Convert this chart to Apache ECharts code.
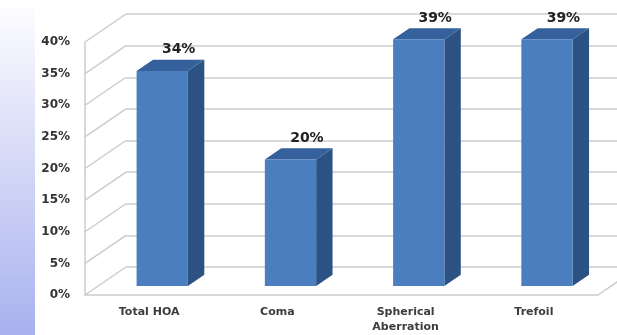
<!DOCTYPE html>
<html>
<head>
<meta charset="utf-8">
<script src="https://cdn.jsdelivr.net/npm/echarts@6/dist/echarts.min.js"></script>
<style>
  html, body { margin: 0; padding: 0; background: #ffffff; }
  #chart { width: 617px; height: 335px; }
</style>
</head>
<body>
<div id="chart"></div>
<script>
// Aberration shares (percent) per category
const categories = ['Total HOA', 'Coma', 'Spherical\nAberration', 'Trefoil'];
const values = [34, 20, 39, 39];
// Value-axis ticks (percent)
const yTicks = [0, 5, 10, 15, 20, 25, 30, 35, 40];

// Pseudo-3D depth: full wall depth vector, bar front offset and bar thickness (fractions of depth)
const DEPTH = [41, -28];
const BAR_FRONT = 0.32;
const BAR_DEPTH = 0.4;
const GRID_COLOR = '#cccccc';

const chart = echarts.init(document.getElementById('chart'), null, { renderer: 'canvas' });

const option = {
  animation: false,
  backgroundColor: '#ffffff',
  graphic: [{
    type: 'rect',
    left: 0, top: 0, z: -10,
    shape: { width: 35, height: 335 },
    style: {
      fill: new echarts.graphic.LinearGradient(0, 0, 0, 1, [
        { offset: 0, color: '#ffffff' },
        { offset: 0.12, color: '#f4f5fd' },
        { offset: 1, color: '#a8b1ee' }
      ])
    }
  }],
  grid: [
    { left: 85, top: 42, width: 513, height: 253 },   // front plane
    { left: 126, top: 14, width: 513, height: 253 }   // back wall
  ],
  xAxis: [
    {
      type: 'category', gridIndex: 0, data: categories,
      axisLine: { show: true, lineStyle: { color: GRID_COLOR, width: 1.5 } },
      axisTick: { show: false },
      axisLabel: {
        interval: 0, margin: 10, color: '#3c3c3c',
        fontFamily: 'DejaVu Sans', fontWeight: 'bold', fontSize: 11, lineHeight: 15
      }
    },
    { type: 'value', gridIndex: 1, min: 0, max: 1, show: false }
  ],
  yAxis: [
    {
      type: 'value', gridIndex: 0, min: 0, max: 40, interval: 5,
      axisLine: { show: true, lineStyle: { color: GRID_COLOR, width: 1.5 } },
      axisTick: { show: false },
      splitLine: { show: false },
      axisLabel: {
        formatter: '{value}%', margin: 15, color: '#333333',
        fontFamily: 'DejaVu Sans', fontWeight: 'bold', fontSize: 12
      }
    },
    {
      type: 'value', gridIndex: 1, min: 0, max: 40, interval: 5,
      axisLine: { show: false }, axisTick: { show: false }, axisLabel: { show: false },
      splitLine: { show: true, lineStyle: { color: GRID_COLOR, width: 1.5 } }
    }
  ],
  series: [
    {
      // receding lines of the left side wall and the floor's right edge
      type: 'custom', xAxisIndex: 0, yAxisIndex: 0, z: 1, silent: true,
      data: yTicks.map(v => [0, v]),
      renderItem: function (params, api) {
        const v = api.value(1);
        const cs = params.coordSys;
        const y = api.coord([0, v])[1];
        const children = [{
          type: 'line',
          shape: { x1: cs.x, y1: y, x2: cs.x + DEPTH[0], y2: y + DEPTH[1] },
          style: { stroke: GRID_COLOR, lineWidth: 1.5 }
        }];
        if (v === 0) {
          const xr = cs.x + cs.width;
          children.push({
            type: 'line',
            shape: { x1: xr, y1: y, x2: xr + DEPTH[0], y2: y + DEPTH[1] },
            style: { stroke: GRID_COLOR, lineWidth: 1.5 }
          });
        }
        return { type: 'group', children: children };
      }
    },
    {
      // 3D columns with value labels
      type: 'custom', xAxisIndex: 0, yAxisIndex: 0, z: 5, silent: true,
      data: values.map((v, i) => [i, v]),
      renderItem: function (params, api) {
        const i = api.value(0), v = api.value(1);
        const base = api.coord([i, 0]);
        const top = api.coord([i, v]);
        const band = api.size([1, 0])[0];
        const w = band * 0.4;
        const fx = DEPTH[0] * BAR_FRONT, fy = DEPTH[1] * BAR_FRONT;
        const bx = DEPTH[0] * BAR_DEPTH, by = DEPTH[1] * BAR_DEPTH;
        const x0 = base[0] - w / 2 + fx, x1 = x0 + w;
        const yb = base[1] + fy, yt = top[1] + fy;
        return {
          type: 'group',
          children: [
            {
              type: 'polygon',
              shape: { points: [[x1, yt], [x1 + bx, yt + by], [x1 + bx, yb + by], [x1, yb]] },
              style: { fill: '#2c5283' }
            },
            {
              type: 'polygon',
              shape: { points: [[x0, yt], [x1, yt], [x1 + bx, yt + by], [x0 + bx, yt + by]] },
              style: { fill: '#34609c' }
            },
            {
              type: 'rect',
              shape: { x: x0, y: yt, width: w, height: yb - yt },
              style: { fill: '#4a7ebf' }
            },
            {
              type: 'text',
              style: {
                text: v + '%',
                x: base[0] + fx + bx, y: yt + by - 3,
                align: 'center', verticalAlign: 'bottom',
                fill: '#222222', font: 'bold 14px "DejaVu Sans"'
              }
            }
          ]
        };
      }
    }
  ]
};

chart.setOption(option);
</script>
</body>
</html>
